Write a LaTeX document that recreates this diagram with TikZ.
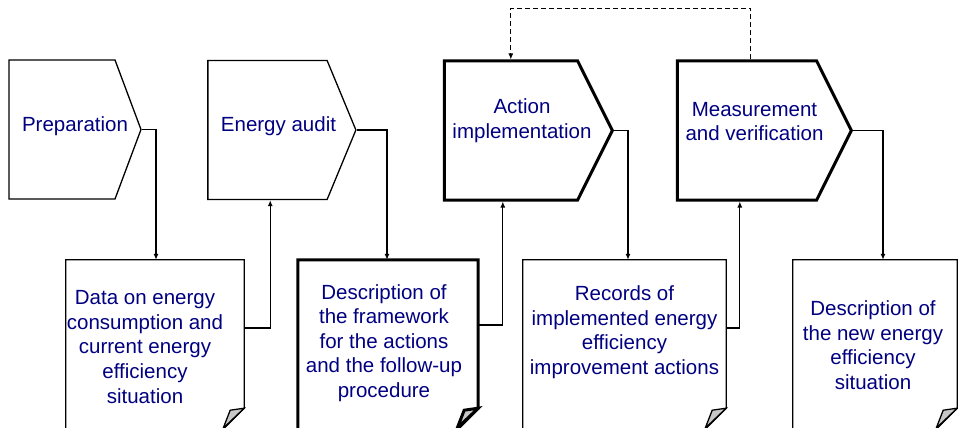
\documentclass[tikz,border=0pt]{standalone}
\usepackage{fontspec}
\setmainfont{Liberation Sans}
\usetikzlibrary{shapes.symbols,arrows.meta,calc}
\definecolor{txtblue}{RGB}{0,0,128}
\definecolor{curlgray}{RGB}{200,200,200}
\tikzstyle{txt} = [text=txtblue, align=center, font=\fontsize{20.5}{24.6}\selectfont]
\tikzstyle{phase} = [draw, shape=signal, signal to=east, minimum height=139pt, inner sep=0pt, line width=1.3pt]
\tikzstyle{doc} = [rectangle, minimum height=180pt, inner sep=0pt]
\tikzstyle{conn} = [-{Latex[length=6pt,width=5pt]}, line width=1.2pt]
\begin{document}
\begin{tikzpicture}[x=1pt,y=-1pt]
	\useasboundingbox (0,0) rectangle (958,428);
	\clip (0,0) rectangle (958,428);
	% phases
	\node[phase, minimum width=132pt, signal pointer angle=139, label={[txt,xshift=13pt,yshift=3pt]center:Preparation}] (prep) at (62,129.5) {};
	\node[phase, minimum width=148pt, signal pointer angle=135, label={[txt,xshift=11pt,yshift=4pt]center:Energy audit}] (audit) at (267.5,130) {};
	\node[phase, minimum width=168pt, signal pointer angle=127, line width=3pt, label={[txt,xshift=11pt,yshift=10pt]center:Action\\implementation}] (action) at (511,130.5) {};
	\node[phase, minimum width=174pt, signal pointer angle=127, line width=3pt, label={[txt,xshift=7.5pt,yshift=9pt]center:Measurement\\and verification}] (mv) at (747,130.5) {};
	% documents
	\node[doc, minimum width=178pt, label={[txt,xshift=-10pt,yshift=3pt]center:Data on energy\\consumption and\\current energy\\efficiency\\situation}] (data) at (155,350) {};
	\node[doc, minimum width=180pt, label={[txt,xshift=-4pt,yshift=7pt]center:Description of\\the framework\\for the actions\\and the follow-up\\procedure}] (desc) at (388,350) {};
	\node[doc, minimum width=203pt, label={[txt,yshift=18pt]center:Records of\\implemented energy\\efficiency\\improvement actions}] (rec) at (624.5,350) {};
	\node[doc, minimum width=164pt, label={[txt,xshift=-2pt,yshift=5pt]center:Description of\\the new energy\\efficiency\\situation}] (new) at (875,350) {};
	\foreach \d/\w in {data/1.3pt, desc/3pt, rec/1.3pt, new/1.3pt}{
		\draw[line width=\w] (\d.south west) -- (\d.north west) -- (\d.north east) -- ($(\d.south east)+(0,-32)$) -- ($(\d.south east)+(-32,0)$) -- cycle;
		\filldraw[fill=curlgray, line width=\w] ($(\d.south east)+(0,-32)$) -- ($(\d.south east)+(-14,-30)$) -- ($(\d.south east)+(-21,-12)$) -- cycle;
	}
	% connectors
	\draw[conn] (prep.east) -| ([xshift=1pt]data.north);
	\draw[conn] (audit.east) -| ([xshift=-1pt]desc.north);
	\draw[conn] (action.east) -| ([xshift=3.5pt]rec.north);
	\draw[conn] (mv.east) -| ([xshift=8pt]new.north);
	\draw[conn] ([yshift=22pt]data.east) -| ($(audit.south west)+(63,0)$);
	\draw[conn] ([yshift=25pt]desc.east) -| ($(action.south west)+(60,0)$);
	\draw[conn] ([yshift=22pt]rec.east) -| ($(mv.south west)+(64,0)$);
	\draw[conn, dash pattern=on 5pt off 3pt] ($(mv.north west)+(75,0)$) -- ++(0,-51) -| ($(action.north west)+(68,0)$);
\end{tikzpicture}
\end{document}
